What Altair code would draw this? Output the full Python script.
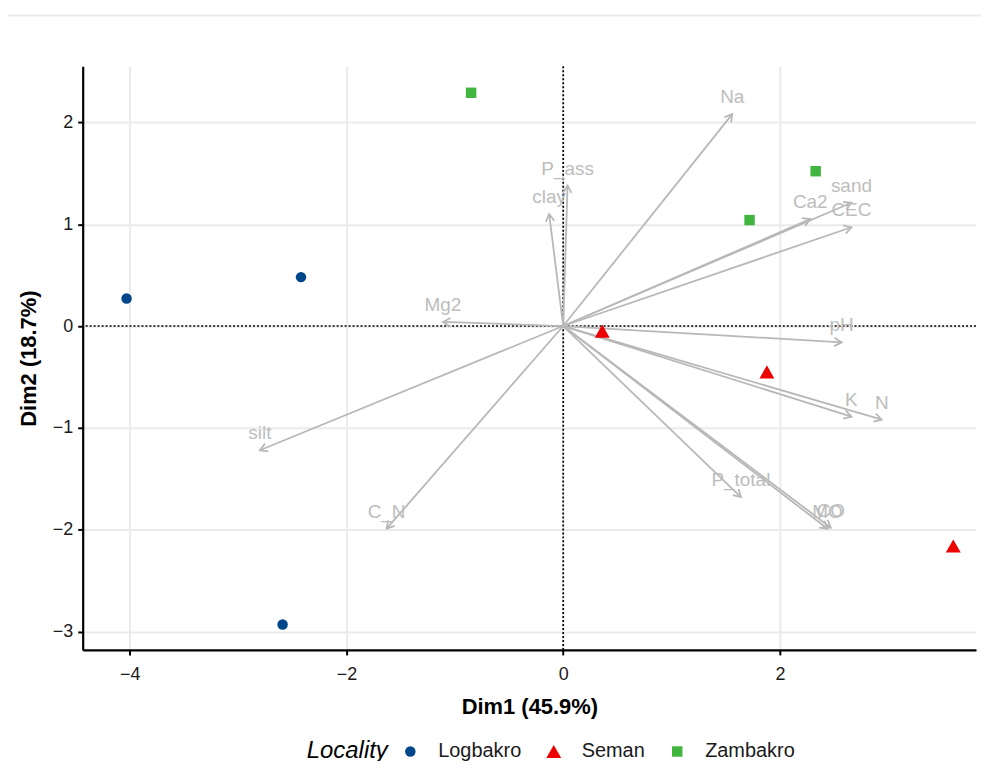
import math
import altair as alt
import pandas as pd

# ---- data ----
localities = ["Logbakro", "Logbakro", "Logbakro",
              "Seman", "Seman", "Seman",
              "Zambakro", "Zambakro", "Zambakro"]
ind_dim1 = [-4.03, -2.42, -2.59, 0.36, 1.88, 3.60, -0.85, 1.72, 2.33]
ind_dim2 = [0.27, 0.48, -2.93, -0.05, -0.45, -2.16, 2.29, 1.04, 1.52]

var_names = ["Na", "P_ass", "clay", "Ca2", "sand", "CEC", "pH", "Mg2",
             "silt", "C_N", "K", "N", "P_total", "MO", "CO"]
var_dim1 = [1.56, 0.04, -0.13, 2.28, 2.66, 2.66, 2.57, -1.11,
            -2.80, -1.63, 2.66, 2.94, 1.64, 2.44, 2.47]
var_dim2 = [2.08, 1.38, 1.10, 1.05, 1.21, 0.97, -0.16, 0.04,
            -1.22, -1.99, -0.89, -0.92, -1.68, -1.99, -1.98]

x_ticks = [-4, -2, 0, 2]
y_ticks = [-3, -2, -1, 0, 1, 2]
x_domain = [-4.435, 3.81]
y_domain = [-3.18, 2.55]

loc_domain = ["Logbakro", "Seman", "Zambakro"]
loc_colors = ["#00468B", "#ED0000", "#42B540"]
loc_shapes = ["circle",
              "M 0 -1.25 L 1.43 1.25 L -1.43 1.25 Z",
              "M -1 -1 L 1 -1 L 1 1 L -1 1 Z"]

W, H = 897, 586
FONT = "Liberation Sans"
GREY = "#B8B8B8"

sx = W / (x_domain[1] - x_domain[0])
sy = H / (y_domain[1] - y_domain[0])

ind = pd.DataFrame({"Locality": localities, "Dim1": ind_dim1, "Dim2": ind_dim2})
var = pd.DataFrame({"name": var_names, "Dim1": var_dim1, "Dim2": var_dim2})
var["x0"] = 0.0
var["y0"] = 0.0
var["ang"] = [
    (math.degrees(math.atan2(a * sx, b * sy)) + 360) % 360
    for a, b in zip(var_dim1, var_dim2)
]

xs = alt.Scale(domain=x_domain, nice=False, zero=False)
ys = alt.Scale(domain=y_domain, nice=False, zero=False)

X = alt.X("Dim1:Q", scale=xs, title="Dim1 (45.9%)",
          axis=alt.Axis(values=x_ticks, format="d"))
Y = alt.Y("Dim2:Q", scale=ys, title="Dim2 (18.7%)",
          axis=alt.Axis(values=y_ticks, format="d"))

zero_df = pd.DataFrame({"v": [0]})
vline = alt.Chart(zero_df).mark_rule(color="black", strokeDash=[2, 2], strokeWidth=1.7).encode(
    x=alt.X("v:Q", scale=xs))
hline = alt.Chart(zero_df).mark_rule(color="black", strokeDash=[2, 2], strokeWidth=1.7).encode(
    y=alt.Y("v:Q", scale=ys))

top_line = alt.Chart(zero_df).mark_rule(color="#ECECEC", strokeWidth=2).encode(
    x=alt.value(-81), x2=alt.value(W + 8), y=alt.value(-51))

shafts = alt.Chart(var).mark_rule(color=GREY, strokeWidth=1.8).encode(
    x=alt.X("x0:Q", scale=xs), y=alt.Y("y0:Q", scale=ys),
    x2="Dim1:Q", y2="Dim2:Q")

heads = alt.Chart(var).mark_point(
    shape="M -0.55 0.95 L 0 0 L 0.55 0.95", filled=False,
    color=GREY, strokeWidth=1.8, size=240, opacity=1).encode(
    x=alt.X("Dim1:Q", scale=xs), y=alt.Y("Dim2:Q", scale=ys),
    angle=alt.Angle("ang:Q", scale=None))

labels = alt.Chart(var).mark_text(
    color="#BDBDBD", font=FONT, fontSize=19, dy=-17, baseline="middle").encode(
    x=alt.X("Dim1:Q", scale=xs), y=alt.Y("Dim2:Q", scale=ys), text="name:N")

points = alt.Chart(ind).mark_point(filled=True, opacity=1, size=110).encode(
    x=X, y=Y,
    color=alt.Color("Locality:N", scale=alt.Scale(domain=loc_domain, range=loc_colors),
                    title="Locality"),
    shape=alt.Shape("Locality:N", scale=alt.Scale(domain=loc_domain, range=loc_shapes),
                    title="Locality"),
)

chart = alt.layer(top_line, vline, hline, shafts, heads, labels, points).properties(
    width=W, height=H,
    autosize=alt.AutoSizeParams(type="none"),
    padding={"left": 75, "top": 57, "right": 5, "bottom": 110},
).configure_view(stroke=None).configure_axis(
    domainColor="black", domainWidth=2.2,
    tickColor="black", tickWidth=2, tickSize=5,
    labelColor="#1a1a1a", labelFont=FONT, labelFontSize=18,
    titleFont=FONT, titleFontSize=22, titleFontWeight="bold", titleColor="black",
    gridColor="#EBEBEB", gridWidth=2,
).configure_axisX(titlePadding=13, labelPadding=11).configure_axisY(
    titlePadding=12, labelPadding=5).configure_legend(
    orient="none", direction="horizontal", legendX=225, legendY=678,
    titleOrient="left", titleFont=FONT, titleFontSize=24, titleFontStyle="italic",
    titleFontWeight="normal", titleColor="black",
    labelFont=FONT, labelFontSize=20, labelColor="#1a1a1a",
    symbolSize=110, symbolStrokeWidth=0, columnPadding=22, labelOffset=18,
    titlePadding=12,
)

chart.save("out.html", embed_options={"renderer": "svg", "actions": False})
